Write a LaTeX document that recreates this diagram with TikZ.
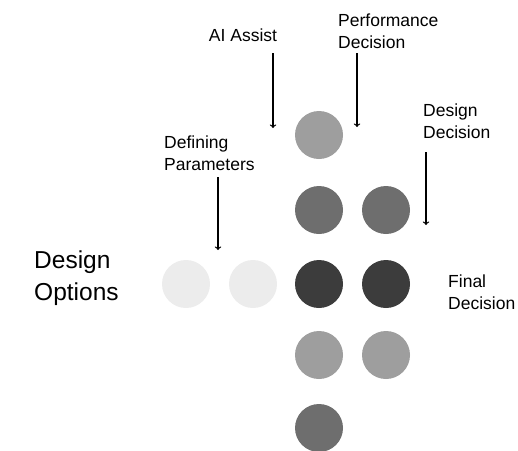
\documentclass[tikz,border=0pt]{standalone}
\usepackage{fontspec}
\setmainfont{Liberation Sans}
\usepackage{xcolor}
\usetikzlibrary{arrows}

\definecolor{dotlight}{HTML}{ECECEC}
\definecolor{dotmid}{HTML}{9E9E9E}
\definecolor{dotgrey}{HTML}{6E6E6E}
\definecolor{dotdark}{HTML}{3C3C3C}

\begin{document}
\begin{tikzpicture}[x=1pt,y=-1pt]
\tikzset{dot/.style={circle,inner sep=0pt,minimum size=48pt}}
\tikzset{lbl/.style={align=left,anchor=west,inner sep=0pt,font=\fontsize{17.5}{22}\selectfont}}
\tikzset{arr/.style={->,>=to,line width=1.3pt}}

\useasboundingbox (0,0) rectangle (518,450);

% the options
\node[dot,fill=dotmid] (top) at (319,135) {};
\node[dot,fill=dotgrey] (r2a) at (319,210) {};
\node[dot,fill=dotgrey] (r2b) at (386,210) {};
\node[dot,fill=dotlight] (r3a) at (186,284) {};
\node[dot,fill=dotlight] (r3b) at (253,284) {};
\node[dot,fill=dotdark] (r3c) at (319,284) {};
\node[dot,fill=dotdark] (r3d) at (386,284) {};
\node[dot,fill=dotmid] (r4a) at (319,355) {};
\node[dot,fill=dotmid] (r4b) at (386,355) {};
\node[dot,fill=dotgrey] (r5a) at (319,428) {};

% labels
\node[lbl,anchor=center] (ai) at (243,35) {AI Assist};
\node[lbl] (perf) at (338,31) {Performance\\Decision};
\node[lbl] (desdec) at (423,121) {Design\\Decision};
\node[lbl] (defpar) at (164,153) {Defining\\Parameters};
\node[lbl,font=\fontsize{24.5}{32}\selectfont] (opts) at (34,278) {Design\\Options};
\node[lbl] (final) at (448,292) {Final\\Decision};

% arrows
\coordinate (ai-s) at (273,53);
\coordinate (ai-e) at (273,128);
\coordinate (perf-s) at (357,53);
\coordinate (perf-e) at (357,127);
\coordinate (desdec-s) at (426,152);
\coordinate (desdec-e) at (426,225);
\coordinate (defpar-s) at (218,177);
\coordinate (defpar-e) at (218,250);
\draw[arr] (ai-s) -- (ai-e);
\draw[arr] (perf-s) -- (perf-e);
\draw[arr] (desdec-s) -- (desdec-e);
\draw[arr] (defpar-s) -- (defpar-e);

\end{tikzpicture}
\end{document}
